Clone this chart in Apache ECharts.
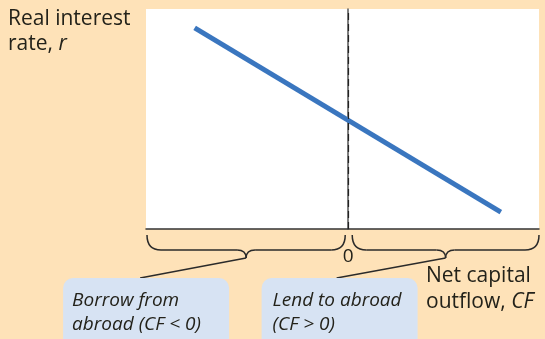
<!DOCTYPE html>
<html>
<head>
<meta charset="utf-8">
<script src="https://cdn.jsdelivr.net/npm/echarts@6/dist/echarts.min.js"></script>
<style>
html,body{margin:0;padding:0;background:#fee2b8;}
#c{width:545px;height:339px;}
</style>
</head>
<body>
<div id="c"></div>
<script>
// Data
const cfRange = [-10.6, 10];          // net capital outflow axis extent
const rRange = [0, 10];               // real interest rate axis extent
const curveCF = [-8.05, 8.0];         // CF values of the curve endpoints
const curveR = [9.14, 0.77];          // r values of the curve endpoints
const zeroTick = [0];                 // the only labelled x tick
const yTitle = ['Real interest', 'rate, {i|r}'];
const xTitle = ['Net capital', 'outflow, {i|CF}'];
const boxTexts = [['Borrow from', 'abroad (CF < 0)'], ['Lend to abroad', '(CF > 0)']];

const FONT = '"Open Sans", Lato, sans-serif';
const INK = '#23221a';
const chart = echarts.init(document.getElementById('c'), null, {renderer: 'canvas'});

chart.setOption({
  backgroundColor: '#fee2b8',
  animation: false,
  grid: {left: 146, top: 9, right: 6, bottom: 110, show: true, backgroundColor: '#ffffff', borderWidth: 0},
  xAxis: {
    type: 'value', min: cfRange[0], max: cfRange[1],
    axisLine: {show: true, onZero: false, lineStyle: {color: '#333', width: 1.5}},
    axisTick: {show: false}, splitLine: {show: false},
    axisLabel: {customValues: zeroTick, margin: 18, fontSize: 19, color: INK, fontFamily: FONT, formatter: v => String(v)}
  },
  yAxis: {
    type: 'value', min: rRange[0], max: rRange[1],
    axisLine: {show: true, lineStyle: {color: '#555', width: 1.5}},
    axisTick: {show: false}, splitLine: {show: false}, axisLabel: {show: false}
  },
  series: [{
    type: 'line', z: 1, data: [], symbol: 'none',
    markLine: {
      silent: true, symbol: 'none', label: {show: false},
      lineStyle: {color: '#222', type: [7, 4], width: 1.2},
      data: [{xAxis: 0}]
    }
  }, {
    type: 'line', z: 3,
    data: curveCF.map((x, i) => [x, curveR[i]]),
    symbol: 'none',
    lineStyle: {color: '#3a76bf', width: 5, cap: 'butt'}
  }]
});

function px(x, y) { return chart.convertToPixel({gridIndex: 0}, [x, y]); }
const pLeft = px(cfRange[0], rRange[0]);
const pZero = px(0, rRange[0]);
const pRight = px(cfRange[1], rRange[0]);
const axisY = pLeft[1];
const yt = axisY + 6, yh = axisY + 21, yp = axisY + 29;

const STROKE = {stroke: '#2a2a2a', lineWidth: 1.5, fill: null};
function seg(x1, y1, x2, y2) {
  return {type: 'line', silent: true, shape: {x1, y1, x2, y2}, style: STROKE};
}
function quad(x1, y1, cx, cy, x2, y2) {
  return {type: 'bezierCurve', silent: true, shape: {x1, y1, x2, y2, cpx1: cx, cpy1: cy}, style: STROKE};
}
function brace(a, b) {
  const m = (a + b) / 2;
  return [
    quad(a, yt, a, yh, a + 14, yh),
    seg(a + 14, yh, m - 9, yh),
    quad(m - 9, yh, m, yh, m, yp),
    quad(m, yp, m, yh, m + 9, yh),
    seg(m + 9, yh, b - 14, yh),
    quad(b - 14, yh, b, yh, b, yt)
  ];
}
const lA = pLeft[0] + 1, lB = pZero[0] - 3;
const rA = pZero[0] + 4, rB = pRight[0];
const lM = (lA + lB) / 2, rM = (rA + rB) / 2;
const boxTop = yp + 20;

const txtStyle = (x, y, lines, lh) => ({
  type: 'text', x, y, silent: true,
  style: {
    text: lines.join('\n'), fill: INK, font: `500 21px ${FONT}`, lineHeight: lh,
    rich: {i: {fontStyle: 'italic', fontWeight: 500, fontSize: 21, fontFamily: FONT, fill: INK}}
  }
});
const boxText = (x, y, lines) => ({
  type: 'text', x, y, silent: true,
  style: {text: lines.join('\n'), fill: INK, font: `italic 19px ${FONT}`, lineHeight: 24}
});

chart.setOption({
  graphic: [].concat(
    brace(lA, lB),
    brace(rA, rB),
    [
      {type: 'line', shape: {x1: lM, y1: yp, x2: lM - 106, y2: boxTop}, style: {stroke: '#2a2a2a', lineWidth: 1.3}, silent: true},
      {type: 'line', shape: {x1: rM, y1: yp, x2: rM - 109, y2: boxTop}, style: {stroke: '#2a2a2a', lineWidth: 1.3}, silent: true},
      {type: 'rect', shape: {x: lM - 183, y: boxTop, width: 166, height: 75, r: 10}, style: {fill: '#d7e3f3'}, silent: true},
      {type: 'rect', shape: {x: rM - 184, y: boxTop, width: 156, height: 75, r: 10}, style: {fill: '#d7e3f3'}, silent: true},
      boxText(lM - 174, boxTop + 11, boxTexts[0]),
      boxText(rM - 173, boxTop + 11, boxTexts[1]),
      txtStyle(8, 7, yTitle, 25),
      txtStyle(rB - 113, yh + 13, xTitle, 26)
    ]
  )
});
</script>
</body>
</html>
